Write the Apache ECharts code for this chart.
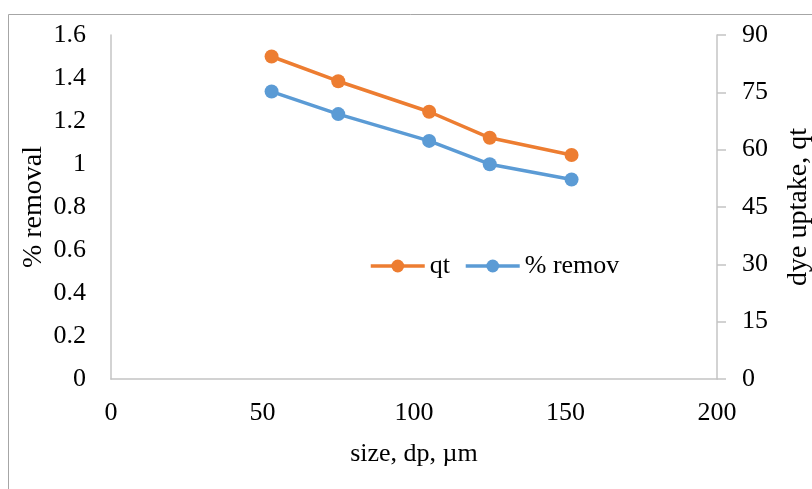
<!DOCTYPE html>
<html>
<head>
<meta charset="utf-8">
<script src="https://cdn.jsdelivr.net/npm/echarts@6/dist/echarts.min.js"></script>
<style>
  html, body { margin: 0; padding: 0; background: #fff; }
  #chart { width: 812px; height: 489px; }
</style>
</head>
<body>
<div id="chart"></div>
<script>
// Particle size (µm)
const sizes = [53, 75, 105, 125, 152];
// Dye uptake series (left axis)
const qtValues = [1.50, 1.385, 1.243, 1.122, 1.042];
// Removal series (right axis)
const removalValues = [75.2, 69.3, 62.3, 56.2, 52.2];

const leftTicks = [0, 0.2, 0.4, 0.6, 0.8, 1, 1.2, 1.4, 1.6];
const rightTicks = [0, 15, 30, 45, 60, 75, 90];
const xTicks = [0, 50, 100, 150, 200];

const FONT = '"Liberation Serif", "DejaVu Serif", serif';
const FS = 26;
const NAME_FS = 28;
const AXIS_GREY = '#c4c4c4';
const TEXT = '#000';

const chart = echarts.init(document.getElementById('chart'), null, { renderer: 'canvas' });

chart.setOption({
  animation: false,
  backgroundColor: '#fff',
  graphic: [{
    type: 'rect',
    shape: { x: 8.5, y: 14.5, width: 900, height: 600 },
    style: { fill: 'none', stroke: '#a6a6a6', lineWidth: 1 },
    silent: true
  }],
  grid: { left: 111, right: 95, top: 35, bottom: 110, containLabel: false, outerBoundsMode: 'none' },
  legend: {
    left: 364, top: 248,
    itemWidth: 54, itemHeight: 16, itemGap: 14,
    lineStyle: { width: 3.5 },
    textStyle: { fontFamily: FONT, fontSize: FS, color: TEXT },
    data: ['qt', '% remov']
  },
  xAxis: {
    type: 'value',
    min: xTicks[0], max: xTicks[xTicks.length - 1], interval: 50,
    name: 'size, dp, µm', nameLocation: 'middle', nameGap: 62,
    nameTextStyle: { fontFamily: FONT, fontSize: FS, color: TEXT },
    axisLine: { show: true, lineStyle: { color: AXIS_GREY, width: 1.5 } },
    axisTick: { show: false },
    axisLabel: { fontFamily: FONT, fontSize: FS, color: TEXT, margin: 21 },
    splitLine: { show: false }
  },
  yAxis: [{
    type: 'value', position: 'left',
    min: leftTicks[0], max: leftTicks[leftTicks.length - 1], interval: 0.2,
    name: '% removal', nameLocation: 'middle', nameGap: 63, nameRotate: 90,
    nameMoveOverlap: false,
    nameTextStyle: { fontFamily: FONT, fontSize: NAME_FS, color: TEXT },
    axisLine: { show: true, onZero: false, lineStyle: { color: AXIS_GREY, width: 1.5 } },
    axisTick: { show: false },
    axisLabel: { fontFamily: FONT, fontSize: FS, color: TEXT, margin: 25,
      formatter: v => String(Math.round(v * 10) / 10) },
    splitLine: { show: false }
  }, {
    type: 'value', position: 'right',
    min: rightTicks[0], max: rightTicks[rightTicks.length - 1], interval: 15,
    name: 'dye uptake, qt', nameLocation: 'middle', nameGap: 68, nameRotate: 90,
    nameMoveOverlap: false,
    nameTextStyle: { fontFamily: FONT, fontSize: NAME_FS, color: TEXT },
    axisLine: { show: true, onZero: false, lineStyle: { color: AXIS_GREY, width: 1.5 } },
    axisTick: { show: true, inside: false, length: 9, lineStyle: { color: AXIS_GREY, width: 1.5 } },
    axisLabel: { fontFamily: FONT, fontSize: FS, color: TEXT, margin: 25 },
    splitLine: { show: false }
  }],
  series: [{
    name: 'qt', type: 'line', yAxisIndex: 0,
    data: sizes.map((s, i) => [s, qtValues[i]]),
    symbol: 'circle', symbolSize: 14,
    lineStyle: { color: '#ED7D31', width: 3.5 },
    itemStyle: { color: '#ED7D31' }
  }, {
    name: '% remov', type: 'line', yAxisIndex: 1,
    data: sizes.map((s, i) => [s, removalValues[i]]),
    symbol: 'circle', symbolSize: 14,
    lineStyle: { color: '#5B9BD5', width: 3.5 },
    itemStyle: { color: '#5B9BD5' }
  }]
});
</script>
</body>
</html>
